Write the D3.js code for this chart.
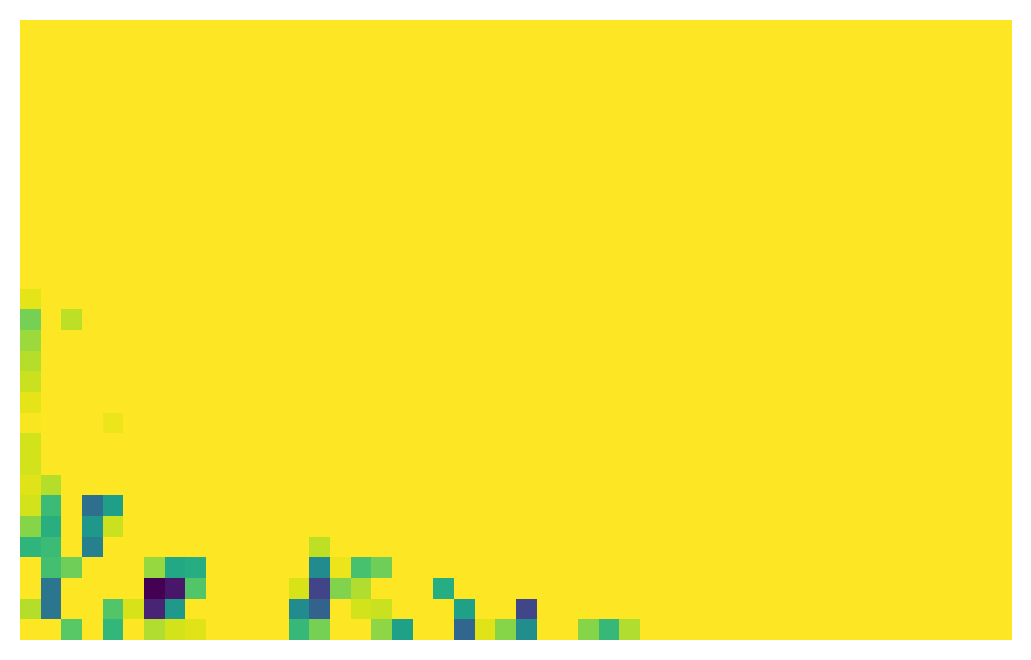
<!DOCTYPE html>
<html>
<head>
<meta charset="utf-8">
<script src="https://cdn.jsdelivr.net/npm/d3@7"></script>
<style>
html,body{margin:0;padding:0;background:#fff;}
svg{display:block;}
</style>
</head>
<body>
<svg id="chart" width="1031" height="660"></svg>
<script>
// Grid dimensions
const nRows = 30;
const nCols = 48;
const rowIndex = d3.range(nRows);
const colIndex = d3.range(nCols);
// Value of every cell not listed below (max of the colour scale)
const defaultValue = 1.0;
// Non-default cells: [row (from top), column (from left), value 0..1]
const cells = [
  [13, 0, 0.96],
  [14, 0, 0.79], [14, 2, 0.90],
  [15, 0, 0.85],
  [16, 0, 0.89],
  [17, 0, 0.92],
  [18, 0, 0.96],
  [19, 0, 0.99], [19, 4, 0.97],
  [20, 0, 0.93],
  [21, 0, 0.93],
  [22, 0, 0.95], [22, 1, 0.89],
  [23, 0, 0.93], [23, 1, 0.68], [23, 3, 0.36], [23, 4, 0.56],
  [24, 0, 0.82], [24, 1, 0.63], [24, 3, 0.53], [24, 4, 0.92],
  [25, 0, 0.65], [25, 1, 0.68], [25, 3, 0.43], [25, 14, 0.90],
  [26, 1, 0.70], [26, 2, 0.78], [26, 6, 0.84], [26, 7, 0.60], [26, 8, 0.62],
  [26, 14, 0.48], [26, 15, 0.97], [26, 16, 0.71], [26, 17, 0.78],
  [27, 1, 0.39], [27, 6, 0.00], [27, 7, 0.06], [27, 8, 0.73],
  [27, 13, 0.94], [27, 14, 0.20], [27, 15, 0.81], [27, 16, 0.88], [27, 20, 0.62],
  [28, 0, 0.89], [28, 1, 0.39], [28, 4, 0.73], [28, 5, 0.94], [28, 6, 0.10], [28, 7, 0.54],
  [28, 13, 0.48], [28, 14, 0.31], [28, 16, 0.93], [28, 17, 0.92], [28, 21, 0.57], [28, 24, 0.21],
  [29, 2, 0.74], [29, 4, 0.66], [29, 6, 0.88], [29, 7, 0.93], [29, 8, 0.95],
  [29, 13, 0.67], [29, 14, 0.79], [29, 17, 0.83], [29, 18, 0.57],
  [29, 21, 0.33], [29, 22, 0.95], [29, 23, 0.82], [29, 24, 0.49],
  [29, 27, 0.82], [29, 28, 0.67], [29, 29, 0.88]
];

const svg = d3.select("#chart");
const margin = {left: 20, right: 19, top: 20, bottom: 20};
const W = 1031, H = 660;

const x = d3.scaleBand().domain(colIndex).range([margin.left, W - margin.right]).padding(0);
const y = d3.scaleBand().domain(rowIndex).range([margin.top, H - margin.bottom]).padding(0);
const color = d3.scaleSequential(d3.interpolateViridis).domain([0, 1]);

const lookup = new Map(cells.map(d => [d[0] + "," + d[1], d[2]]));
const grid = [];
rowIndex.forEach(r => colIndex.forEach(c => {
  const v = lookup.has(r + "," + c) ? lookup.get(r + "," + c) : defaultValue;
  grid.push({r, c, v});
}));

svg.append("g")
  .attr("shape-rendering", "crispEdges")
  .selectAll("rect")
  .data(grid)
  .join("rect")
  .attr("x", d => x(d.c))
  .attr("y", d => y(d.r))
  .attr("width", d => x.bandwidth() + (d.c < nCols - 1 ? 0.5 : 0))
  .attr("height", d => y.bandwidth() + (d.r < nRows - 1 ? 0.5 : 0))
  .attr("fill", d => color(d.v));
</script>
</body>
</html>
